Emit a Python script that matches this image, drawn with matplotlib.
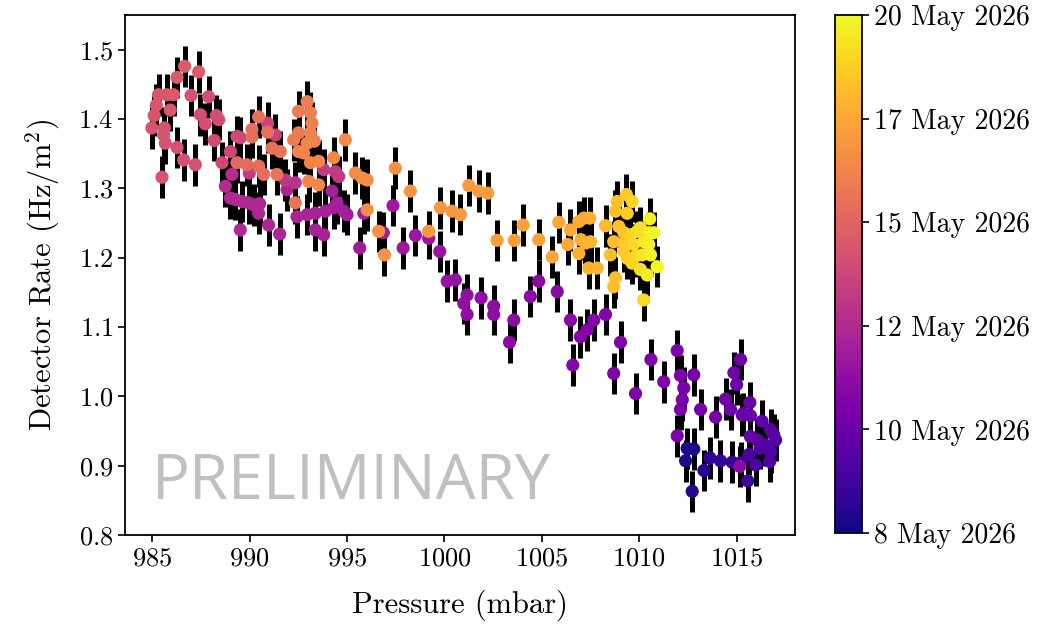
import numpy as np
import matplotlib
matplotlib.use('Agg')
import matplotlib.pyplot as plt
from matplotlib.colors import Normalize

# LaTeX-like fonts
plt.rcParams['font.family'] = 'serif'
plt.rcParams['font.serif'] = ['cmr10']
plt.rcParams['mathtext.fontset'] = 'cm'
plt.rcParams['axes.formatter.use_mathtext'] = True

# data, grouped roughly in time order
# day = days since 8 May 2026
pressure = [
    # dark blue
    1012.46, 1012.80, 1012.38, 1012.72, 1013.32, 1013.63, 1014.17, 1014.77, 1015.20, 1015.57,
    # indigo, right cluster
    1015.63, 1015.97, 1016.70, 1016.74, 1017.00, 1016.74, 1016.31, 1016.06, 1015.71, 1015.29,
    1015.34, 1016.45, 1016.20, 1016.90, 1015.16,
    # indigo-purple, upper right
    1015.71, 1015.68, 1015.20, 1015.00, 1014.86, 1014.69, 1014.43, 1013.92, 1013.15, 1012.12,
    1012.21, 1012.29, 1012.12, 1011.95, 1012.80, 1011.26, 1011.95, 1010.60,
    # purple 1000-1010
    1009.81, 1009.04, 1008.69, 1008.27, 1007.67, 1007.33, 1006.98, 1006.59, 1006.47, 1005.79,
    1004.84, 1004.41, 1003.56, 1003.34, 1002.53, 1002.53, 1001.88, 1001.16, 1000.99, 1001.16,
    1000.56, 1000.14,
    # purple 989-1000
    999.76, 999.19, 998.51, 997.88, 997.36, 995.86, 995.65, 996.86, 994.83, 994.31,
    994.23, 993.89, 993.37, 993.37, 993.80, 992.95, 992.43, 991.92, 991.54, 990.97,
    990.51, 990.46, 990.20, 989.95, 989.61, 989.52, 989.26, 989.01, 988.75, 989.09,
    994.49, 995.00,
    # magenta
    992.34, 991.83, 994.57, 994.40, 993.80, 991.32, 990.92, 989.52, 989.98, 988.58,
    989.01, 989.35,
    # pink, far left
    988.18, 988.41, 988.29, 987.89, 987.72, 987.47, 987.21, 986.99, 986.61, 986.27,
    985.67, 985.50, 985.58, 985.62, 984.98, 985.10, 985.21, 985.32, 985.75, 985.92,
    986.09, 986.27, 986.66, 987.38,
    # salmon
    989.35, 989.86, 990.46, 990.72, 990.12, 990.12, 990.46, 990.92, 991.15, 991.57,
    991.40, 992.34,
    # orange 992-995
    992.26, 992.51, 992.51, 992.95, 993.12, 993.20, 993.12, 993.32, 992.95, 992.51,
    992.77, 993.12, 993.54, 993.03, 993.54, 994.31, 994.91,
    # orange 995-1004
    995.43, 995.77, 996.03, 996.03, 996.62, 996.92, 997.48, 998.25, 999.19, 999.79,
    1000.39, 1000.82, 1001.25, 1001.76, 1002.22, 1002.70, 1003.59, 1004.04,
    # orange 1004-1008.5
    1004.84, 1005.53, 1005.87, 1006.33, 1006.47, 1006.90, 1007.16, 1007.46, 1007.00, 1007.24,
    1006.90, 1007.41, 1007.84, 1007.50, 1008.27,
    # yellow cluster
    1008.52, 1008.69, 1008.78, 1008.69, 1008.87, 1008.78, 1008.95, 1009.21, 1009.21, 1009.21,
    1009.34, 1009.38, 1009.38, 1009.55, 1009.64, 1009.64, 1009.72, 1009.81, 1009.90, 1010.06,
    1010.06, 1010.15, 1010.23, 1010.23, 1010.41, 1010.49, 1010.49, 1010.54, 1010.58, 1010.75,
    1010.92,
]

rate = [
    0.925, 0.924, 0.907, 0.863, 0.893, 0.911, 0.907, 0.905, 0.904, 0.878,
    0.916, 0.901, 0.906, 0.920, 0.937, 0.952, 0.964, 0.937, 0.942, 0.973,
    0.975, 0.930, 0.925, 0.945, 0.899,
    0.972, 0.991, 1.053, 1.017, 1.034, 0.981, 0.996, 0.970, 0.981, 0.981,
    0.995, 1.012, 1.030, 1.066, 1.031, 1.021, 0.943, 1.053,
    1.004, 1.078, 1.033, 1.118, 1.110, 1.096, 1.086, 1.045, 1.110, 1.151,
    1.166, 1.144, 1.110, 1.078, 1.130, 1.118, 1.142, 1.146, 1.134, 1.118,
    1.168, 1.166,
    1.209, 1.228, 1.232, 1.214, 1.275, 1.264, 1.214, 1.236, 1.267, 1.272,
    1.296, 1.267, 1.264, 1.240, 1.233, 1.262, 1.259, 1.298, 1.234, 1.247,
    1.278, 1.264, 1.276, 1.279, 1.281, 1.240, 1.284, 1.286, 1.303, 1.320,
    1.279, 1.262,
    1.308, 1.312, 1.317, 1.324, 1.327, 1.377, 1.394, 1.373, 1.322, 1.337,
    1.353, 1.375,
    1.369, 1.399, 1.405, 1.432, 1.393, 1.406, 1.334, 1.434, 1.341, 1.359,
    1.365, 1.316, 1.377, 1.387, 1.387, 1.405, 1.420, 1.435, 1.435, 1.413,
    1.435, 1.460, 1.476, 1.468,
    1.337, 1.334, 1.332, 1.320, 1.385, 1.374, 1.403, 1.381, 1.358, 1.353,
    1.320, 1.279,
    1.370, 1.411, 1.380, 1.425, 1.409, 1.394, 1.380, 1.368, 1.365, 1.353,
    1.351, 1.337, 1.339, 1.310, 1.305, 1.344, 1.370,
    1.322, 1.315, 1.312, 1.269, 1.238, 1.204, 1.329, 1.296, 1.238, 1.272,
    1.267, 1.262, 1.304, 1.296, 1.293, 1.225, 1.225, 1.247,
    1.226, 1.201, 1.251, 1.219, 1.240, 1.252, 1.257, 1.257, 1.226, 1.221,
    1.206, 1.185, 1.185, 1.223, 1.246,
    1.204, 1.158, 1.171, 1.223, 1.281, 1.267, 1.245, 1.236, 1.221, 1.209,
    1.291, 1.264, 1.199, 1.233, 1.281, 1.192, 1.219, 1.202, 1.238, 1.243,
    1.183, 1.204, 1.223, 1.139, 1.175, 1.236, 1.219, 1.256, 1.204, 1.236,
    1.187,
]

day = [
    0.3, 0.35, 0.4, 0.5, 0.6, 0.7, 0.8, 0.9, 1.0, 1.1,
    1.4, 1.5, 1.6, 1.7, 1.8, 1.9, 2.0, 2.1, 2.2, 2.3,
    2.3, 1.75, 1.65, 1.85, 3.5,
    2.4, 2.45, 2.5, 2.55, 2.6, 2.6, 2.65, 2.7, 2.75, 2.8,
    2.85, 2.9, 2.9, 2.95, 2.8, 3.0, 3.0, 3.0,
    3.05, 3.1, 3.1, 3.15, 3.2, 3.2, 3.25, 3.3, 3.3, 3.35,
    3.4, 3.45, 3.5, 3.5, 3.55, 3.6, 3.6, 3.65, 3.7, 3.7,
    3.75, 3.8,
    3.9, 3.95, 4.0, 4.05, 4.1, 4.15, 4.2, 4.25, 4.3, 4.35,
    4.4, 4.4, 4.45, 4.45, 4.5, 4.5, 4.55, 4.55, 4.6, 4.6,
    4.65, 4.65, 4.7, 4.7, 4.75, 4.75, 4.8, 4.8, 4.85, 4.9,
    4.35, 4.3,
    5.2, 5.3, 5.4, 5.5, 5.6, 5.8, 5.9, 6.0, 5.5, 6.0,
    6.0, 6.1,
    6.2, 6.25, 6.3, 6.3, 6.35, 6.35, 6.4, 6.4, 6.45, 6.45,
    6.5, 6.5, 6.55, 6.55, 6.6, 6.6, 6.65, 6.65, 6.7, 6.7,
    6.75, 6.75, 6.8, 6.8,
    7.4, 7.45, 7.5, 7.5, 7.55, 7.6, 7.6, 7.65, 7.7, 7.75,
    7.8, 7.9,
    8.1, 8.15, 8.15, 8.2, 8.2, 8.25, 8.3, 8.3, 8.35, 8.35,
    8.4, 8.4, 8.45, 8.5, 8.5, 8.55, 8.6,
    8.7, 8.75, 8.8, 8.8, 8.85, 8.9, 8.9, 8.95, 9.0, 9.05,
    9.1, 9.1, 9.15, 9.2, 9.25, 9.3, 9.35, 9.4,
    9.5, 9.55, 9.6, 9.65, 9.7, 9.75, 9.8, 9.85, 9.85, 9.9,
    9.9, 9.95, 10.0, 10.0, 10.2,
    10.3, 10.3, 10.35, 10.35, 10.4, 10.4, 10.45, 10.6, 10.6, 10.65,
    10.7, 10.75, 10.8, 10.9, 11.0, 11.0, 11.1, 11.1, 11.2, 11.3,
    11.3, 11.4, 11.5, 11.1, 11.6, 11.7, 11.7, 11.8, 11.8, 11.9,
    12.0,
]

rate_err = 0.03

# colorbar: 8 May -> 20 May 2026, evenly spaced ticks
day_span = 12.0
cbar_labels = ['8 May 2026', '10 May 2026', '12 May 2026',
               '15 May 2026', '17 May 2026', '20 May 2026']

fig = plt.figure(figsize=(10.55, 6.3), dpi=100)
ax = fig.add_axes([0.1185, 0.1508, 0.6351, 0.8254])
cax = fig.add_axes([0.7915, 0.154, 0.0256, 0.822])

ax.errorbar(pressure, rate, yerr=rate_err, fmt='none', ecolor='black',
            elinewidth=3.6, capsize=0, zorder=1)
norm = Normalize(vmin=0, vmax=day_span)
sc = ax.scatter(pressure, rate, c=day, cmap='plasma', norm=norm, s=90,
                edgecolors='none', zorder=2)

ax.text(0.04, 0.07, 'PRELIMINARY', transform=ax.transAxes, fontsize=45.5,
        color='#c0c0c0', family=['Open Sans', 'DejaVu Sans'], zorder=3)

ax.set_xlim(983.6, 1018.0)
ax.set_ylim(0.8, 1.55)
ax.set_xticks([985, 990, 995, 1000, 1005, 1010, 1015])
ax.set_yticks([0.8, 0.9, 1.0, 1.1, 1.2, 1.3, 1.4, 1.5])
ax.tick_params(labelsize=19, width=1.2, length=5)
for s in ax.spines.values():
    s.set_linewidth(1.3)
ax.set_xlabel('Pressure (mbar)', fontsize=22, labelpad=14)
ax.set_ylabel('Detector Rate (Hz/m$^2$)', fontsize=22, labelpad=12)

cbar = fig.colorbar(sc, cax=cax)
cbar.set_ticks(np.linspace(0, day_span, len(cbar_labels)))
cbar.set_ticklabels(cbar_labels)
cbar.ax.tick_params(labelsize=20, width=1.2, length=5)
cbar.outline.set_linewidth(1.3)

fig.savefig('out.png', dpi=100)
